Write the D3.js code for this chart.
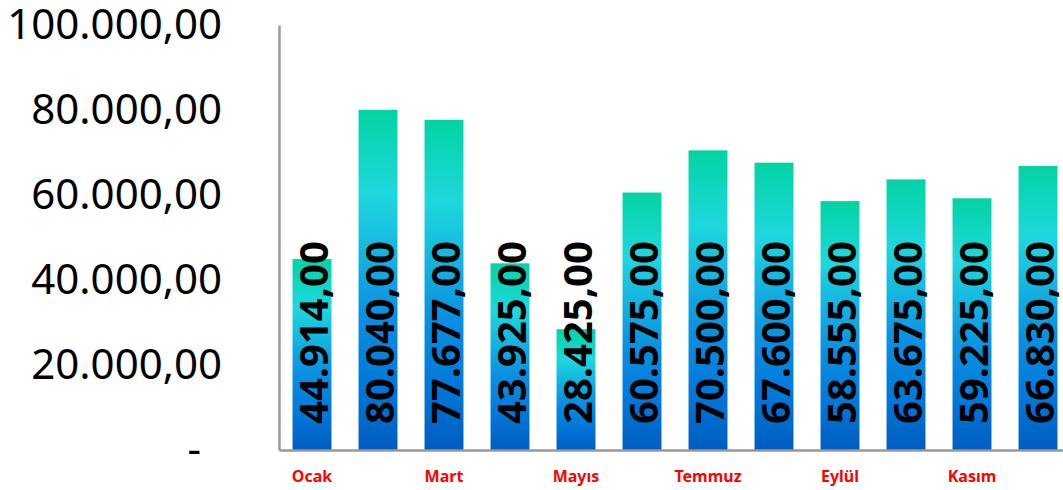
<!DOCTYPE html>
<html>
<head>
<meta charset="utf-8">
<script src="https://cdn.jsdelivr.net/npm/d3@7"></script>
<style>
  html, body { margin: 0; padding: 0; background: #fff; overflow: hidden; }
  svg { display: block; }
</style>
</head>
<body>
<svg id="chart" width="1063" height="490"></svg>
<script>
// Monthly totals
const months = ["Ocak", "Şubat", "Mart", "Nisan", "Mayıs", "Haziran",
                "Temmuz", "Ağustos", "Eylül", "Ekim", "Kasım", "Aralık"];
const values = [44914, 80040, 77677, 43925, 28425, 60575,
                70500, 67600, 58555, 63675, 59225, 66830];
const yTicks = [0, 20000, 40000, 60000, 80000, 100000];
// Only every other month is labelled on the axis
const shownMonths = ["Ocak", "Mart", "Mayıs", "Temmuz", "Eylül", "Kasım"];

const svg = d3.select("#chart");
const plotLeft = 279, plotTop = 25, plotBottom = 450, bandWidth = 66;

const x = d3.scaleBand()
  .domain(months)
  .range([plotLeft, plotLeft + bandWidth * months.length])
  .paddingInner(0.41)
  .paddingOuter(0.205);

const y = d3.scaleLinear().domain([0, 100000]).range([plotBottom, plotTop]);

// number format: 80.040,00
const trLocale = d3.formatLocale({ decimal: ",", thousands: ".", grouping: [3], currency: ["", " TL"] });
const fmt = trLocale.format(",.2f");

// vertical gradient applied per bar
const grad = svg.append("defs").append("linearGradient")
  .attr("id", "barGrad")
  .attr("x1", 0).attr("y1", 0).attr("x2", 0).attr("y2", 1);
[[0, "#03D3A3"], [0.25, "#1ED8DE"], [0.6, "#0A90E2"], [0.8, "#0079DB"], [1, "#005DC0"]]
  .forEach(([o, c]) => grad.append("stop").attr("offset", o).attr("stop-color", c));

// bars
svg.append("g").selectAll("rect")
  .data(values)
  .join("rect")
  .attr("x", (d, i) => x(months[i]))
  .attr("y", d => y(d))
  .attr("width", x.bandwidth())
  .attr("height", d => y(0) - y(d))
  .attr("fill", "url(#barGrad)");

// value labels, written upward from the bar base
svg.append("g").selectAll("text")
  .data(values)
  .join("text")
  .attr("transform", (d, i) => `translate(${x(months[i]) + x.bandwidth() / 2},${plotBottom - 26}) rotate(-90)`)
  .attr("dy", "0.4em")
  .attr("text-anchor", "start")
  .style("font-family", "'Noto Sans', sans-serif")
  .style("font-weight", "bold")
  .style("font-size", "40px")
  .attr("fill", "#000")
  .text(d => fmt(d));

// y axis
const yAxis = svg.append("g")
  .attr("transform", `translate(${plotLeft},0)`)
  .call(d3.axisLeft(y).tickValues(yTicks).tickSize(0).tickPadding(57)
    .tickFormat(d => d === 0 ? "-" : fmt(d)));
yAxis.select(".domain").attr("stroke", "#999").attr("stroke-width", 2.5);
yAxis.selectAll("text")
  .style("font-family", "'Noto Sans', sans-serif")
  .style("font-size", "42px")
  .attr("fill", "#000");
// the zero label sits a little further left
yAxis.selectAll(".tick").filter(d => d === 0).select("text").attr("dx", -21);

// x axis
const xAxis = svg.append("g")
  .attr("transform", `translate(0,${plotBottom})`)
  .call(d3.axisBottom(x).tickSize(0).tickPadding(21)
    .tickFormat(m => shownMonths.includes(m) ? m : ""));
xAxis.select(".domain").attr("stroke", "#999").attr("stroke-width", 2.5);
xAxis.selectAll("text")
  .style("font-family", "'Noto Sans', sans-serif")
  .style("font-weight", "bold")
  .style("font-size", "16px")
  .attr("fill", "#FF0000");
</script>
</body>
</html>
